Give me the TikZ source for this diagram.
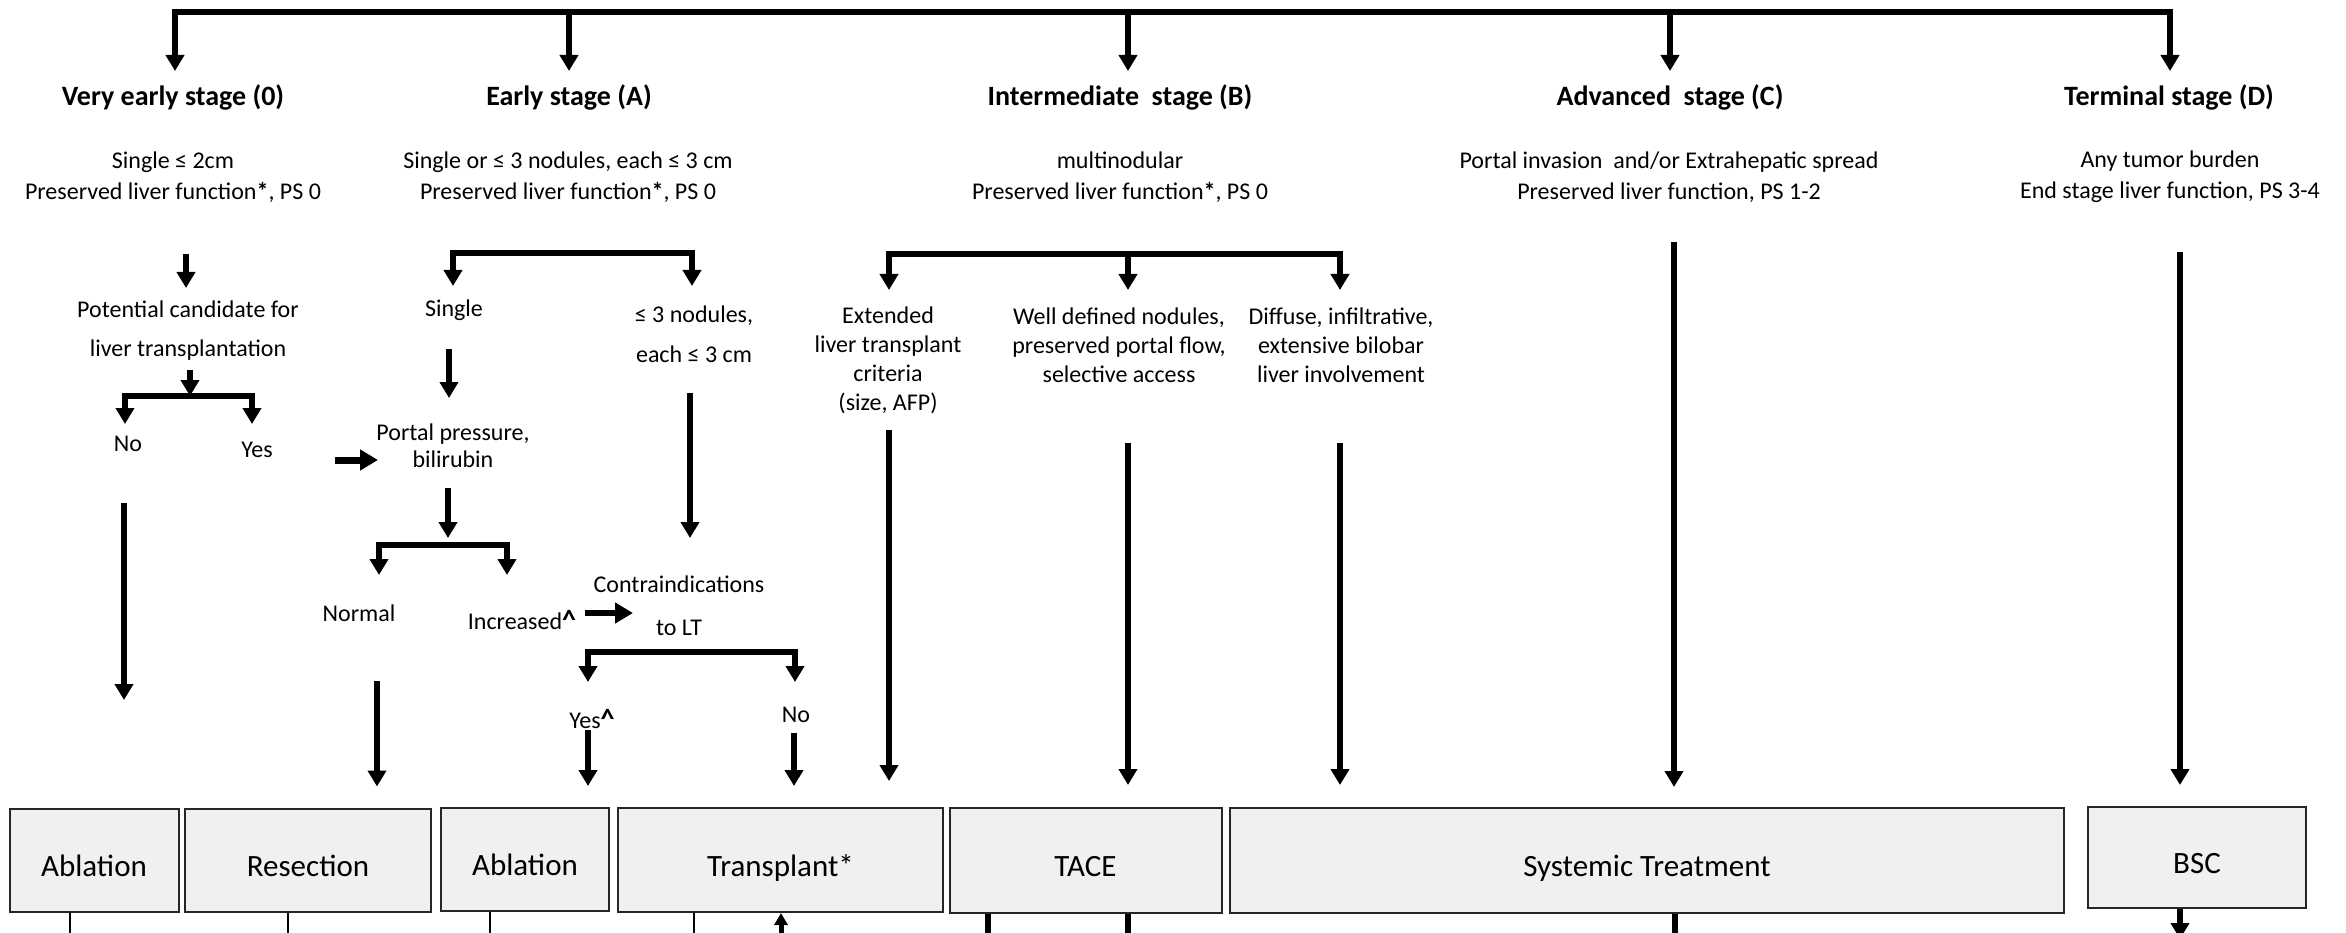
\documentclass[tikz,border=0pt]{standalone}
\usepackage{fontspec}
\setmainfont{Carlito}
\usetikzlibrary{arrows.meta}

\newcommand{\caretmark}{{\fontsize{28}{28}\selectfont\bfseries\textasciicircum}}

\tikzset{
  txt/.style={font=\fontsize{24}{31}\selectfont, align=center, inner sep=0pt},
  head/.style={font=\fontsize{28}{32}\selectfont\bfseries, inner sep=0pt},
  box/.style={draw=black!85, line width=2pt, fill=black!6,
    font=\fontsize{31}{36}\selectfont, inner sep=0pt, text height=32pt, text depth=0pt},
  arr/.style={line width=5.5pt, line join=miter, -{Triangle[width=18pt,length=16pt]}},
  arrtwo/.style={line width=5.5pt, line join=miter,
    {Triangle[width=18pt,length=16pt]}-{Triangle[width=18pt,length=16pt]}},
  fat/.style={line width=7pt, -{Triangle[width=20pt,length=18pt]}},
  stub/.style={line width=2pt},
  thickstub/.style={line width=5.5pt},
}

\begin{document}
\begin{tikzpicture}[x=1pt,y=-1pt]
\useasboundingbox (0,0) rectangle (2346,933);
\fill[white] (0,0) rectangle (2346,933);
\clip (0,0) rectangle (2346,933);

% ---------- stage headings ----------
\node[head] (h0) at (173,97) {Very early stage (0)};
\node[head] (hA) at (569,97) {Early stage (A)};
\node[head] (hB) at (1120,97) {Intermediate~ stage (B)};
\node[head] (hC) at (1670,97) {Advanced~ stage (C)};
\node[head] (hD) at (2169,97) {Terminal stage (D)};

% ---------- stage descriptions ----------
\node[txt] (d0) at (173,177) {Single ≤ 2cm\\Preserved liver function\textbf{*}, PS 0};
\node[txt] (dA) at (568,177) {Single or ≤ 3 nodules, each ≤ 3 cm\\Preserved liver function\textbf{*}, PS 0};
\node[txt] (dB) at (1120,177) {multinodular\\Preserved liver function\textbf{*}, PS 0};
\node[txt] (dC) at (1669,177) {Portal invasion~ and/or Extrahepatic spread\\Preserved liver function, PS 1-2};
\node[txt] (dD) at (2170,177) {Any tumor burden\\End stage liver function, PS 3-4};

% ---------- very early stage branch ----------
\node[txt, font=\fontsize{24}{39}\selectfont] (p0) at (188,331) {Potential candidate for\\liver transplantation};
\node[txt] (no0) at (128,444) {No};
\node[txt] (yes0) at (257,450) {Yes};

% ---------- early stage branch ----------
\node[txt] (sgl) at (454,310) {Single};
\node[txt, font=\fontsize{24}{40}\selectfont] (nod) at (694,334) {≤ 3 nodules,\\each ≤ 3 cm};
\node[txt, font=\fontsize{24}{27}\selectfont] (ppb) at (453,446) {Portal pressure,\\bilirubin};
\node[txt] (nrm) at (359,613) {Normal};
\node[txt] (inc) at (522,620) {Increased\caretmark};
\node[txt, font=\fontsize{24}{43}\selectfont] (ci) at (679,606) {Contraindications\\to LT};
\node[txt] (yesA) at (592,719) {Yes\caretmark};
\node[txt] (noA) at (796,715) {No};

% ---------- intermediate stage branch ----------
\node[txt, font=\fontsize{24}{29}\selectfont] (ext) at (888,360) {Extended\\liver transplant\\criteria\\(size, AFP)};
\node[txt, font=\fontsize{24}{29}\selectfont] (wdn) at (1119,345) {Well defined nodules,\\preserved portal flow,\\selective access};
\node[txt, font=\fontsize{24}{29}\selectfont] (dif) at (1341,345) {Diffuse, infiltrative,\\extensive bilobar\\liver involvement};

% ---------- treatment boxes ----------
\node[box, minimum width=169pt, minimum height=103pt] (abl1) at (94,860) {Ablation};
\node[box, minimum width=246pt, minimum height=103pt] (res) at (308,860) {Resection};
\node[box, minimum width=168pt, minimum height=103pt] (abl2) at (525,859.5) {Ablation};
\node[box, minimum width=325pt, minimum height=104pt] (tra) at (780.5,860) {Transplant*};
\node[box, minimum width=272pt, minimum height=105pt] (tace) at (1085.5,860.5) {TACE};
\node[box, minimum width=834pt, minimum height=105pt] (sys) at (1647,860.5) {Systemic Treatment};
\node[box, minimum width=218pt, minimum height=101pt] (bsc) at (2197,857.5) {BSC};

% ---------- top distribution bar ----------
\coordinate (t0) at (175,71);
\coordinate (tA) at (569,71);
\coordinate (tB) at (1128,71);
\coordinate (tC) at (1670,71);
\coordinate (tD) at (2170,71);
\coordinate (barR) at (2170,12);
\draw[arrtwo] (t0) |- (barR) -- (tD);
\draw[arr] (tA |- barR) -- (tA);
\draw[arr] (tB |- barR) -- (tB);
\draw[arr] (tC |- barR) -- (tC);

% ---------- very early stage connectors ----------
\coordinate (s0) at (186,254);
\draw[arr] (s0) -- (186,288);
\coordinate (j0) at (190,396);
\draw[arr] (190,370) -- (j0);
\draw[arrtwo] (125,424) |- (j0) -| (252,424);
\coordinate (pin) at (378,460);
\draw[fat] (335,460) -- (pin);
\coordinate (v0) at (124,700);
\draw[arr] (124,503) -- (v0);

% ---------- early stage connectors ----------
\coordinate (jA) at (572,253);
\draw[arrtwo] (453,286) |- (jA) -| (692,286);
\draw[arr] (449,349) -- (449,398);
\draw[arr] (690,393) -- (690,538);
\draw[arr] (448,488) -- (448,538);
\coordinate (jN) at (443,545);
\draw[arrtwo] (379,575) |- (jN) -| (507,575);
\draw[fat, line width=6pt] (585,613) -- (633,613);
\coordinate (jC) at (690,652);
\draw[arrtwo] (588,682) |- (jC) -| (795,682);
\draw[arr] (377,681) -- ([xshift=69pt,yshift=21pt]res.north);
\draw[arr] (588,730) -- ([xshift=63pt,yshift=21pt]abl2.north);
\draw[arr] (794,733) -- ([xshift=13.5pt,yshift=21pt]tra.north);
\draw[arr] (889,430) -- ([xshift=108.5pt,yshift=26pt]tra.north);

% ---------- intermediate stage connectors ----------
\coordinate (jB) at (1128,254);
\draw[arrtwo] (889,290) |- (jB) -| (1340,290);
\draw[arr] (jB) -- (1128,290);
\draw[arr] (1128,443) -- ([xshift=42.5pt,yshift=22pt]tace.north);
\draw[arr] (1340,443) -- ([xshift=-307pt,yshift=22pt]sys.north);

% ---------- advanced / terminal connectors ----------
\draw[arr] (1674,242) -- ([xshift=27pt,yshift=20pt]sys.north);
\draw[arr] (2180,252) -- ([xshift=-17pt,yshift=21pt]bsc.north);

% ---------- lines leaving the treatment boxes ----------
\draw[stub] ([xshift=-24pt]abl1.south) -- ++(0,30);
\draw[stub] ([xshift=-20pt]res.south) -- ++(0,30);
\draw[stub] ([xshift=-35pt]abl2.south) -- ++(0,30);
\draw[stub] ([xshift=-86.5pt]tra.south) -- ++(0,30);
\draw[line width=5pt, -{Triangle[width=13pt,length=12pt]}] ([xshift=0.5pt,yshift=-35pt]tra.south) -- ([xshift=0.5pt]tra.south);
\draw[thickstub] ([xshift=-97.5pt]tace.south) -- ++(0,30);
\draw[thickstub] ([xshift=42.5pt]tace.south) -- ++(0,30);
\draw[thickstub] ([xshift=28pt]sys.south) -- ++(0,30);
\draw[arr] ([xshift=-17pt]bsc.south) -- ++(0,30);
\end{tikzpicture}
\end{document}
